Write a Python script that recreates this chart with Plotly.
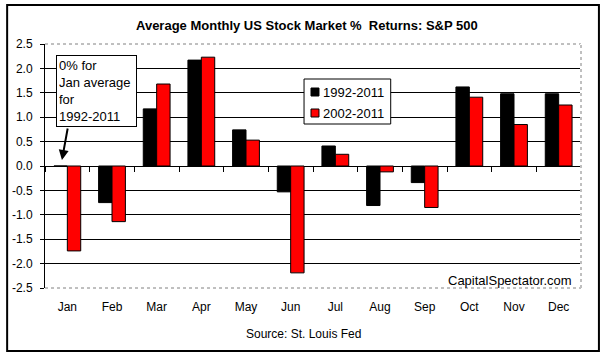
import plotly.graph_objects as go

months = ["Jan", "Feb", "Mar", "Apr", "May", "Jun", "Jul", "Aug", "Sep", "Oct", "Nov", "Dec"]
series_names = ["1992-2011", "2002-2011"]
returns_1992_2011 = [0.0, -0.75, 1.17, 2.17, 0.74, -0.53, 0.41, -0.81, -0.34, 1.62, 1.48, 1.48]
returns_2002_2011 = [-1.74, -1.14, 1.68, 2.23, 0.53, -2.19, 0.24, -0.12, -0.85, 1.41, 0.85, 1.25]
series_colors = ["#000000", "#FF0000"]
y_ticks = [-2.5, -2.0, -1.5, -1.0, -0.5, 0.0, 0.5, 1.0, 1.5, 2.0, 2.5]

FONT = "Arial, Liberation Sans, sans-serif"
W, H = 604, 356
PX0, PX1, PY0, PY1 = 43, 581, 44, 288


def px(x):
    return (x - PX0) / (PX1 - PX0)


def py(y):
    return (PY1 - y) / (PY1 - PY0)


fig = go.Figure()
for name, vals, col in zip(series_names, [returns_1992_2011, returns_2002_2011], series_colors):
    fig.add_trace(go.Bar(x=months, y=vals, name=name, marker=dict(color=col, line=dict(color="black", width=1)),
                         showlegend=False))

# invisible helper trace for the zero-line tick axis
fig.add_trace(go.Scatter(x=[0], y=[0], xaxis="x2", mode="markers", marker=dict(opacity=0),
                         showlegend=False, hoverinfo="skip"))

shapes = []
# outer frame
shapes.append(dict(type="rect", xref="paper", yref="paper", x0=px(5), x1=px(599), y0=py(351), y1=py(5),
                   line=dict(color="black", width=2), layer="above"))
# plot borders: top, right, bottom (dotted gray)
for (x0, x1, y0, y1) in [(0, 1, 1, 1), (1, 1, 0, 1), (0, 1, 0, 0)]:
    shapes.append(dict(type="line", xref="paper", yref="paper", x0=x0, x1=x1, y0=y0, y1=y1,
                       line=dict(color="white", width=2), layer="above"))
    shapes.append(dict(type="line", xref="paper", yref="paper", x0=x0, x1=x1, y0=y0, y1=y1,
                       line=dict(color="#808080", width=1, dash="dot"), layer="above"))
# legend box
shapes.append(dict(type="rect", xref="paper", yref="paper", x0=px(303), x1=px(390), y0=py(124), y1=py(79),
                   line=dict(color="black", width=1), fillcolor="white", layer="above"))
legend_rows = [92, 113]
for row, col in zip(legend_rows, series_colors):
    shapes.append(dict(type="rect", xref="paper", yref="paper", x0=px(310), x1=px(318), y0=py(row + 4), y1=py(row - 4),
                       line=dict(color="black", width=1), fillcolor=col, layer="above"))

annotations = []
annotations.append(dict(text="<b>Average Monthly US Stock Market %  Returns: S&P 500</b>", xref="paper", yref="paper",
                        x=px(306), y=py(25), xanchor="center", yanchor="middle", showarrow=False,
                        font=dict(family=FONT, size=13, color="black")))
for row, name in zip(legend_rows, series_names):
    annotations.append(dict(text=name, xref="paper", yref="paper", x=px(320), y=py(row), xanchor="left",
                            yanchor="middle", showarrow=False, font=dict(family=FONT, size=13, color="black")))
# note box
annotations.append(dict(text="0% for<br>Jan average<br>for<br>1992-2011", xref="paper", yref="paper",
                        x=px(54), y=py(55), xanchor="left", yanchor="top", align="left", valign="top",
                        showarrow=False, bordercolor="black", borderwidth=1, borderpad=2, bgcolor="white",
                        width=75, font=dict(family=FONT, size=13, color="black")))
# arrow
annotations.append(dict(text="", xref="paper", yref="paper", x=px(60), y=py(160), ax=6, ay=-33,
                        showarrow=True, arrowhead=2, arrowsize=1, arrowwidth=2, arrowcolor="black"))
annotations.append(dict(text="CapitalSpectator.com", xref="paper", yref="paper", x=px(574), y=py(280),
                        xanchor="right", yanchor="middle", showarrow=False,
                        font=dict(family=FONT, size=13, color="black")))
annotations.append(dict(text="Source: St. Louis Fed", xref="paper", yref="paper", x=px(302), y=py(334),
                        xanchor="center", yanchor="middle", showarrow=False,
                        font=dict(family=FONT, size=12, color="black")))

fig.update_layout(
    width=W, height=H,
    margin=dict(l=PX0, r=W - PX1, t=PY0, b=H - PY1),
    paper_bgcolor="white", plot_bgcolor="white",
    barmode="group", bargap=0.4, bargroupgap=0.0,
    font=dict(family=FONT, size=12, color="black"),
    xaxis=dict(showline=False, ticks="", showgrid=False, zeroline=False, range=[-0.5, 11.5],
               ticklabelstandoff=10, tickfont=dict(family=FONT, size=12, color="black")),
    xaxis2=dict(overlaying="x", anchor="free", position=0.5, range=[-0.5, 11.5],
                tickmode="array", tickvals=[i - 0.5 for i in range(13)], showticklabels=False,
                ticks="outside", ticklen=5, tickcolor="black", tickwidth=1,
                showline=False, showgrid=False, zeroline=False),
    yaxis=dict(range=[-2.5, 2.5], tickmode="array", tickvals=y_ticks, ticktext=[f"{v:.1f}" for v in y_ticks],
               showline=True, linecolor="black", linewidth=1, ticks="outside", ticklen=4, tickcolor="black",
               ticklabelstandoff=5,
               showgrid=True, gridcolor="black", gridwidth=1, zeroline=True, zerolinecolor="black",
               zerolinewidth=1, tickfont=dict(family=FONT, size=12, color="black")),
    shapes=shapes,
    annotations=annotations,
    showlegend=False,
)

fig.write_html("out.html", config={"displayModeBar": False},
               post_script="document.body.style.margin='0';document.body.style.overflow='hidden';")
